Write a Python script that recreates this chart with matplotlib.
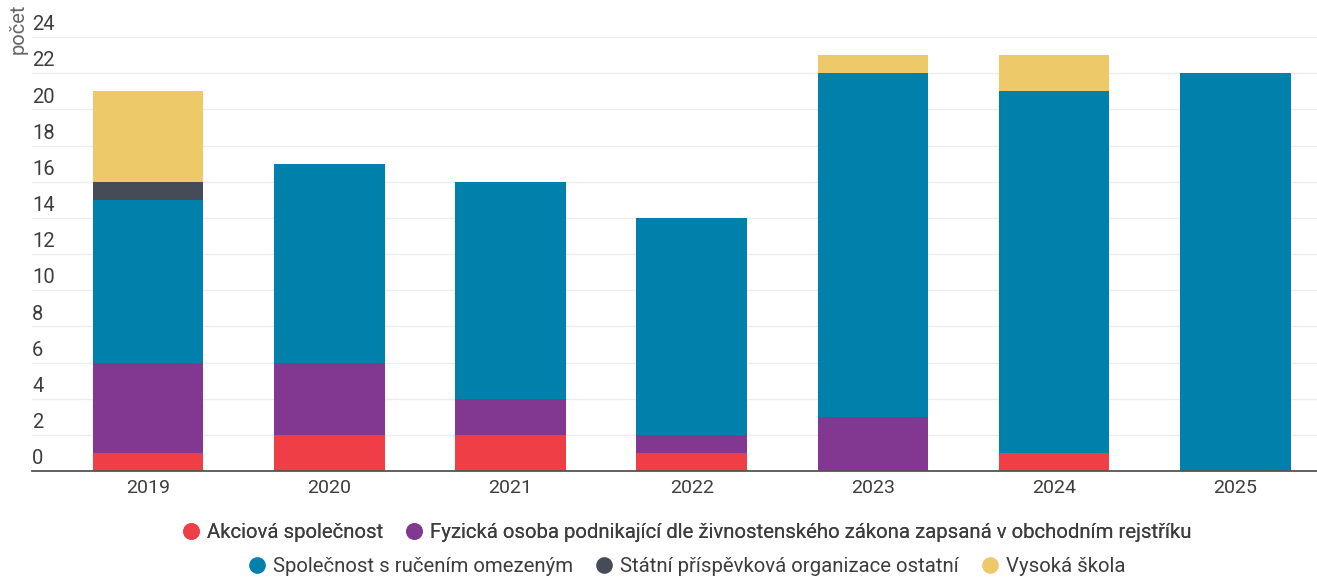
import matplotlib
matplotlib.use("Agg")
import matplotlib.pyplot as plt
import matplotlib.transforms as mtransforms
from matplotlib.lines import Line2D
import numpy as np

plt.rcParams["font.family"] = ["Roboto", "DejaVu Sans"]

# Data
years = ["2019", "2020", "2021", "2022", "2023", "2024", "2025"]
series_names = [
    "Akciová společnost",
    "Fyzická osoba podnikající dle živnostenského zákona zapsaná v obchodním rejstříku",
    "Společnost s ručením omezeným",
    "Státní příspěvková organizace ostatní",
    "Vysoká škola",
]
akciova = [1, 2, 2, 1, 0, 1, 0]
fyzicka = [5, 4, 2, 1, 3, 0, 0]
sro = [9, 11, 12, 12, 19, 20, 22]
statni = [1, 0, 0, 0, 0, 0, 0]
vysoka = [5, 0, 0, 0, 1, 2, 0]
y_ticks = [0, 2, 4, 6, 8, 10, 12, 14, 16, 18, 20, 22, 24]

COLORS = ["#ef3e45", "#823791", "#0081ab", "#474a57", "#edc96a"]
TEXT_COLOR = "#3d3d3d"
GRID_COLOR = "#ececec"

fig = plt.figure(figsize=(13.17, 5.78), dpi=100)
ax = fig.add_axes([0.0243, 0.185, 0.9757, 0.779])

x = np.arange(len(years))
bottom = np.zeros(len(years))
for vals, color in zip([akciova, fyzicka, sro, statni, vysoka], COLORS):
    vals = np.array(vals, dtype=float)
    ax.bar(x, vals, 0.61, bottom=bottom, color=color, edgecolor="none", zorder=3)
    bottom += vals

ax.set_xlim(-0.64, 6.45)
ax.set_ylim(0, 24.9)

# gridlines and y labels drawn above the lines
for t in y_ticks:
    if t > 0:
        ax.axhline(t, color=GRID_COLOR, linewidth=1, zorder=1)
trans = mtransforms.blended_transform_factory(ax.transAxes, ax.transData)
offset = mtransforms.offset_copy(trans, fig=fig, x=0, y=2, units="points")
for t in y_ticks:
    ax.text(0.0, t, str(t), transform=offset, ha="left", va="bottom",
            fontsize=14.5, color=TEXT_COLOR)

ax.set_yticks([])
ax.set_xticks(x)
ax.set_xticklabels(years, fontsize=14, color=TEXT_COLOR)
ax.tick_params(axis="x", length=0, pad=6)
for side in ["top", "right", "left"]:
    ax.spines[side].set_visible(False)
ax.spines["bottom"].set_color("#555555")
ax.spines["bottom"].set_linewidth(1.3)
ax.spines["bottom"].set_zorder(4)

fig.text(18 / 1317, 1 - 4 / 578, "počet", rotation=90, ha="center", va="top",
         fontsize=14.5, color="#666666")

def handle(c):
    return Line2D([], [], marker="o", linestyle="none", markersize=12,
                  markerfacecolor=c, markeredgecolor="none")

legend_x = 686 / 1317
row1 = fig.legend([handle(COLORS[0]), handle(COLORS[1])], series_names[:2],
                  loc="center", bbox_to_anchor=(legend_x, 1 - 533 / 578), ncol=2,
                  frameon=False, handletextpad=0.3,
                  columnspacing=1.0, handlelength=1.0, labelcolor=TEXT_COLOR,
                  prop={"size": 14.7})
fig.add_artist(row1)
fig.legend([handle(c) for c in COLORS[2:]], series_names[2:],
           loc="center", bbox_to_anchor=(legend_x, 1 - 567 / 578), ncol=3,
           frameon=False, handletextpad=0.3,
           columnspacing=1.0, handlelength=1.0, labelcolor=TEXT_COLOR,
           prop={"size": 14.7})

fig.savefig("out.png", dpi=100)
